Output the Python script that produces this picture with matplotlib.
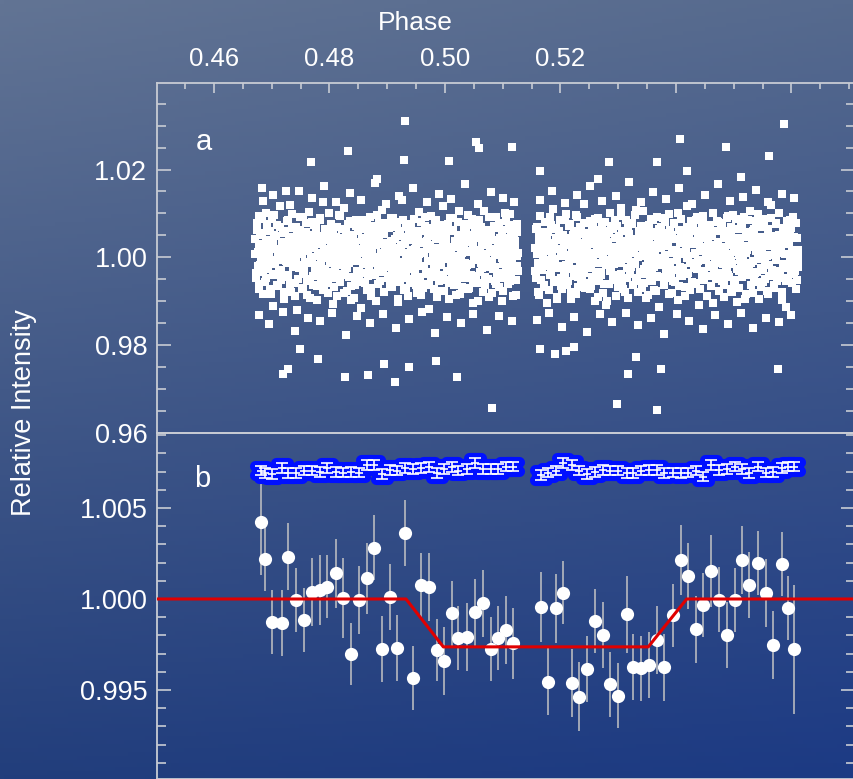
import numpy as np
import matplotlib
matplotlib.use('Agg')
import matplotlib.pyplot as plt
from matplotlib.ticker import MultipleLocator, FormatStrFormatter, FuncFormatter
import matplotlib.patheffects as pe

# ---------------- Panel a: unbinned photometry ----------------
# observed phase span of each evenly-sampled block
block_a_span = (0.4671, 0.5127)
block_b_span = (0.5156, 0.5612)
# flux deviations in units of 1e-4 (read/estimated from the picture)
dev_a = [
    42, -35, 78, 12, -61, 95, -18, 3, 55, -84, 27, -9, 101, -47, 66, -22, 14, -73, 38, 88, -5, -110, 51, 20, -39, 73, -66, 9, 117, -28,
    -52, 34, 5, -95, 61, 23, -14, 84, -41, 10, 46, -78, 99, -3, 30, -58, 70, 17, -120, 44, -25, 63, 8, -69, 92, -37, 26, -11, 57, -86,
    15, 104, -49, 36, -2, 80, -63, 21, -31, 67, -97, 48, 2, -17, 89, -54, 31, 125, -72, 6, -44, 58, 13, -81, 40, -6, 76, -33, 22, -107,
    69, -20, 47, -88, 11, 96, -57, 29, -1, 64, -40, 112, -26, 35, -76, 19, 52, -12, 83, -65, 4, 43, -93, 28, -48, 71, -8, 60, -30, 18,
    -115, 39, 86, -15, 25, -59, 7, 74, -43, 50, -7, 93, -70, 16, -36, 62, 1, -99, 45, 30, -21, 79, -53, 10, 108, -29, 56, -80, 33, -4,
    24, -46, 66, -13, 90, -67, 37, 0, -39, 81, -23, 49, -102, 14, 59, -56, 27, 130, -10, -74, 41, -32, 68, 9, -89, 54, -16, 77, -50, 3,
    87, -27, 18, -62, 46, -1, 103, -45, 32, -85, 60, 12, -19, 72, -60, 38, -9, 57, -118, 21, 94, -34, 6, -71, 49, -24, 85, 15, -42, 65,
    -3, 53, -77, 29, 118, -51, 8, 42, -30, 75, -94, 19, -14, 61, -38, 90, -64, 2, 34, -55, 80, -6, 24, -83, 47, 11, -28, 70, -47, 36,
    58, -18, 97, -69, 13, -40, 74, 26, -105, 43, -2, 66, -58, 17, 84, -33, 50, -12, 31, -79, 106, -44, 7, 62, -21, 39, -91, 20, 52, -8,
    -26, 71, -53, 5, 92, -36, 28, -68, 45, 14, -100, 63, -15, 37, -48, 82, 0, -61, 25, 99, -35, 56, -7, -87, 44, 18, -52, 76, -20, 9,
]
dev_a2 = [
    7, -48, 63, -19, 30, -72, 51, -4, 88, -33, 16, -57, 40, -11, 75, -26, 2, 59, -83, 22, -40, 34, 97, -15, 48, -64, 11, -29, 70, -6,
    -37, 19, 55, -78, 28, -9, 82, -45, 13, 39, -60, 4, 67, -23, 46, -87, 24, -2, 61, -50, 33, 91, -18, 8, -71, 44, -31, 15, 79, -54,
    26, -14, 50, -93, 37, 0, -42, 73, -20, 58, -66, 9, 31, -35, 84, -8, 47, -75, 18, -27, 65, -1, 41, -58, 100, -12, 23, -46, 6, 54,
    -68, 35, -3, 69, -39, 21, 94, -52, 12, -17, 45, -81, 28, 60, -24, 3, 77, -44, 17, -98, 52, -7, 36, -62, 25, 86, -30, 10, -49, 64,
    20, -56, 43, -10, 81, -36, 14, -74, 57, -22, 32, 5, -89, 49, -13, 71, -41, 27, -5, 96, -61, 38, -16, 62, -33, 1, 53, -79, 29, -21,
    78, -43, 9, -65, 36, 18, -28, 90, -51, 42, -7, 68, -95, 21, -37, 56, 13, -19, 85, -47, 30, -70, 4, 47, -25, 72, -58, 16, -3, 39,
    -11, 60, -34, 25, -82, 44, 7, -53, 80, -20, 34, -69, 11, 92, -38, 19, -8, 54, -63, 29, -45, 66, 3, -26, 83, -14, 41, -91, 22, -55,
    46, -18, 74, -40, 10, -77, 33, 57, -4, 24, -59, 89, -31, 15, -48, 63, -1, 38, -86, 27, -22, 50, 106, -36, 6, -67, 43, 20, -12, 76,
    -29, 52, -72, 14, 39, -15, 87, -56, 26, -6, 61, -42, 5, -99, 48, 17, -33, 70, -24, 35, 1, -64, 58, -9, 28, -50, 93, -17, 44, -81,
    13, 67, -23, 40, -60, 8, -35, 79, -47, 31, -2, 55, -76, 20, 102, -28, 45, -12, 64, -53, 24, -39, 11, 73, -19, 37, -85, 2, 58, -30,
]
dev_b = [
    -31, 64, 8, -79, 47, -16, 95, -52, 22, 3, -68, 81, -9, 36, -104, 58, 15, -41, 73, -25, 110, -57, 29, -4, 67, -90, 40, -19, 86, -48,
    12, -73, 51, 27, -36, 99, -62, 6, 44, -12, 77, -95, 33, -27, 61, -3, 18, -84, 92, -44, 25, 70, -58, 1, -21, 53, 122, -70, 39, -8,
    56, -24, 83, -66, 10, -45, 68, 31, -99, 48, -14, 20, 90, -53, 7, -34, 74, -82, 42, 16, -109, 59, -5, 35, -60, 101, -28, 13, 65, -40,
    -15, 45, -87, 72, 4, -50, 26, 113, -37, 60, -71, 19, -1, 85, -46, 38, -92, 54, 9, -23, 79, -64, 30, -11, 96, -55, 23, -78, 49, 2,
    71, -38, 14, 105, -59, 34, -20, 62, -86, 43, 11, -49, 88, -30, 57, -75, 21, -6, 93, -42, 46, -114, 28, 68, -17, 37, -63, 5, 80, -33,
    -47, 25, 98, -10, 52, -81, 17, -29, 75, -56, 41, 0, -97, 63, 32, -22, 87, -43, 12, 55, -68, 19, -2, 116, -35, 48, -74, 31, -13, 69,
    38, -61, 9, 84, -26, 50, -108, 22, -7, 66, -39, 94, -52, 15, 43, -88, 29, 73, -18, 4, -65, 57, 102, -32, 20, -47, 82, -9, 35, -76,
    -2, 78, -54, 24, -91, 61, 13, -25, 89, -40, 32, 7, -72, 50, -15, 97, -60, 18, 40, -101, 65, -30, 27, -5, 74, -45, 11, 91, -36, 58,
    -83, 16, 47, -19, 106, -64, 34, -8, 59, -50, 23, 82, -33, 1, -96, 70, -24, 44, 12, -57, 88, -11, 39, -77, 26, 64, -42, 6, 119, -28,
    49, -69, 21, 76, -4, -55, 35, 100, -37, 14, -80, 60, -21, 42, 8, -112, 53, -46, 30, 85, -16, 67, -59, 3, 46, -30, 79, -51, 17, -3,
]
dev_b2 = [
    22, -46, 70, -13, 38, -85, 15, 57, -29, 4, -62, 81, -20, 47, -5, 33, -74, 91, -38, 10, 64, -52, 26, -9, 44, -96, 18, 59, -24, 2,
    -66, 41, 12, -31, 85, -17, 29, -55, 72, -3, 36, -80, 21, 52, -42, 7, 97, -26, 45, -68, 16, -11, 60, -47, 32, 78, -35, 9, -58, 25,
    50, -8, -73, 34, -21, 66, 3, -49, 88, -33, 19, -90, 43, -14, 62, -40, 27, 5, -61, 80, -18, 39, -100, 14, 55, -30, 71, -6, 24, -51,
    -2, 84, -44, 17, -67, 48, 30, -12, 95, -57, 8, 37, -79, 26, -25, 68, -4, 53, -39, 11, 76, -63, 20, -15, 42, 107, -48, 1, 61, -34,
    35, -70, 19, 58, -27, 6, -92, 45, -10, 74, -41, 28, 3, -54, 86, -23, 13, -76, 49, -1, 31, 65, -45, 22, -16, 90, -60, 40, -7, 55,
    -19, 28, -84, 63, -36, 10, 47, -53, 79, -28, 17, -6, 102, -65, 34, -43, 56, 8, -24, 42, -88, 23, 69, -37, 4, 51, -14, 83, -56, 30,
    61, -25, 7, -59, 92, -9, 39, -72, 24, 14, -47, 76, -32, 53, -1, -87, 36, 19, -42, 67, -21, 48, -105, 29, -12, 60, -38, 11, 81, -50,
    -36, 16, 74, -16, 43, -64, 2, 59, -30, 95, -45, 27, -8, 68, -78, 32, 12, -52, 87, -26, 45, 5, -69, 38, -20, 73, -3, 25, -95, 50,
    9, -41, 84, -22, 57, -13, 30, -81, 41, 64, -35, 15, -57, 99, -4, 26, -67, 46, 18, -29, 71, -49, 34, 3, -84, 54, -18, 37, 89, -43,
    27, -62, 40, -7, 79, -31, 11, 52, -46, 21, -98, 66, -15, 32, 7, -54, 82, -25, 48, -11, 63, -39, 16, 93, -33, 4, -71, 44, -23, 13,
]
# points on the ragged upper/lower fringe of the cloud (phase, deviation in 1e-4)
fringe_phase = [0.4685, 0.4702, 0.4731, 0.4748, 0.4769, 0.4790, 0.4812, 0.4836, 0.4855, 0.4878, 0.4897,
                0.4921, 0.4944, 0.4968, 0.4989, 0.5010, 0.5034, 0.5058, 0.5079, 0.5101, 0.5120,
                0.4678, 0.4696, 0.4719, 0.4740, 0.4762, 0.4783, 0.4805, 0.4829, 0.4848, 0.4870, 0.4893,
                0.4915, 0.4937, 0.4960, 0.4982, 0.5004, 0.5027, 0.5049, 0.5072, 0.5093, 0.5116,
                0.5164, 0.5185, 0.5207, 0.5229, 0.5251, 0.5272, 0.5296, 0.5318, 0.5339, 0.5361, 0.5383,
                0.5405, 0.5428, 0.5450, 0.5472, 0.5494, 0.5516, 0.5538, 0.5560, 0.5583, 0.5605,
                0.5160, 0.5180, 0.5203, 0.5224, 0.5246, 0.5268, 0.5290, 0.5313, 0.5335, 0.5357, 0.5379,
                0.5401, 0.5423, 0.5446, 0.5467, 0.5490, 0.5512, 0.5534, 0.5556, 0.5578, 0.5600]
fringe_dev = [128, 141, 119, 152, 134, 163, 125, 147, 131, 170, 122,
              139, 158, 127, 144, 133, 166, 121, 149, 136, 126,
              -131, -152, -124, -168, -138, -145, -127, -176, -134, -149, -129,
              -161, -140, -125, -172, -136, -150, -128, -165, -133, -146,
              131, 150, 124, 143, 162, 128, 139, 171, 126, 148, 133,
              157, 122, 141, 166, 129, 137, 153, 125, 145, 134,
              -142, -127, -158, -135, -169, -130, -147, -126, -155, -138, -174,
              -129, -144, -163, -132, -151, -127, -160, -139, -148, -131]
# isolated outlying points
out_phase = [0.49307, 0.50537, 0.50589, 0.51160, 0.48320, 0.49290, 0.47680, 0.50069, 0.46831, 0.48822,
             0.47247, 0.50814, 0.49134, 0.50208, 0.47195, 0.47281, 0.48268, 0.48667, 0.49377, 0.49844,
             0.47801, 0.47489, 0.48944,
             0.51645, 0.54069, 0.53671, 0.54866, 0.55870, 0.55610, 0.54190, 0.52840, 0.52649, 0.55126,
             0.52978, 0.53671, 0.55766, 0.52095, 0.53169, 0.53307, 0.52234, 0.51905, 0.53740, 0.51645]
out_flux = [1.03115, 1.02635, 1.02498, 1.02521, 1.02430, 1.02224, 1.02178, 1.02201, 1.01573, 1.01790,
            1.01515, 0.96564, 0.97158, 0.97272, 0.97333, 0.97447, 0.97272, 0.97310, 0.97493, 0.97630,
            0.97675, 0.97904, 0.97561,
            1.01973, 1.02704, 1.02178, 1.02521, 1.03047, 1.02315, 1.01973, 1.02178, 1.01790, 1.01835,
            0.96670, 0.96533, 0.97447, 0.97858, 0.97333, 0.97722, 0.97950, 0.97790, 0.97447, 0.97904]

# ---------------- Panel b: binned photometry ----------------
bin_phase = [0.46809, 0.46883, 0.47010, 0.47172, 0.47287, 0.47420, 0.47564, 0.47692, 0.47835, 0.47962,
             0.48107, 0.48229, 0.48372, 0.48511, 0.48644, 0.48771, 0.48904, 0.49048, 0.49164, 0.49307,
             0.49441, 0.49579, 0.49723, 0.49856, 0.49983, 0.50116, 0.50230, 0.50376, 0.50519, 0.50653,
             0.50791, 0.50923, 0.51051, 0.51172,
             0.51662, 0.51789, 0.51922, 0.52049, 0.52194, 0.52320, 0.52454, 0.52597, 0.52731, 0.52857,
             0.53001, 0.53146, 0.53250, 0.53394, 0.53532, 0.53666, 0.53797, 0.53943, 0.54081, 0.54213,
             0.54341, 0.54473, 0.54606, 0.54750, 0.54888, 0.55022, 0.55138, 0.55270, 0.55415, 0.55558,
             0.55685, 0.55830, 0.55944, 0.56043]
bin_flux = [1.00421, 1.00220, 0.99872, 0.99866, 1.00232, 0.99995, 0.99885, 1.00040, 1.00049, 1.00068,
            1.00141, 1.00004, 0.99698, 0.99995, 1.00114, 1.00282, 0.99725, 1.00013, 0.99729, 1.00361,
            0.99564, 1.00077, 1.00068, 0.99720, 0.99661, 0.99921, 0.99784, 0.99793, 0.99927, 0.99976,
            0.99724, 0.99784, 0.99830, 0.99757,
            0.99958, 0.99546, 0.99949, 1.00035, 0.99537, 0.99463, 0.99615, 0.99881, 0.99802, 0.99531,
            0.99469, 0.99916, 0.99628, 0.99619, 0.99637, 0.99775, 0.99625, 0.99910, 1.00214, 1.00128,
            0.99835, 0.99967, 1.00154, 0.99995, 0.99802, 0.99995, 1.00214, 1.00077, 1.00199, 1.00031,
            0.99747, 1.00191, 0.99949, 0.99724]
bin_err = [0.00290, 0.00174, 0.00176, 0.00181, 0.00184, 0.00178, 0.00176, 0.00187, 0.00192, 0.00172,
           0.00190, 0.00220, 0.00172, 0.00185, 0.00196, 0.00177, 0.00183, 0.00181, 0.00181, 0.00182,
           0.00176, 0.00176, 0.00187, 0.00170, 0.00187, 0.00179, 0.00176, 0.00187, 0.00184, 0.00183,
           0.00176, 0.00176, 0.00187, 0.00194,
           0.00192, 0.00185, 0.00191, 0.00175, 0.00188, 0.00191, 0.00179, 0.00176, 0.00181, 0.00180,
           0.00180, 0.00210, 0.00181, 0.00180, 0.00179, 0.00187, 0.00185, 0.00173, 0.00190, 0.00182,
           0.00184, 0.00176, 0.00199, 0.00179, 0.00183, 0.00177, 0.00185, 0.00181, 0.00176, 0.00187,
           0.00187, 0.00177, 0.00177, 0.00354]
# comparison (offset) light curve shown in blue
comp_flux = [1.00705, 1.00692, 1.00687, 1.00720, 1.00692, 1.00692, 1.00705, 1.00705, 1.00699, 1.00720,
             1.00699, 1.00694, 1.00699, 1.00694, 1.00736, 1.00736, 1.00687, 1.00709, 1.00705,
             1.00720, 1.00714, 1.00720, 1.00725, 1.00692, 1.00714, 1.00725, 1.00705, 1.00714, 1.00747,
             1.00714, 1.00714, 1.00714, 1.00727, 1.00727,
             1.00681, 1.00694, 1.00705, 1.00747, 1.00736, 1.00705, 1.00687, 1.00699, 1.00709, 1.00705,
             1.00705, 1.00692, 1.00692, 1.00705, 1.00709, 1.00709, 1.00692, 1.00694,
             1.00692, 1.00694, 1.00705, 1.00672, 1.00736, 1.00709, 1.00714, 1.00727, 1.00714, 1.00692,
             1.00727, 1.00694, 1.00699, 1.00720, 1.00727, 1.00727]
comp_err = 0.00026
# transit model
model_phase = [0.450, 0.49325, 0.49971, 0.53520, 0.54185, 0.571]
model_flux = [1.0, 1.0, 0.99737, 0.99737, 1.0, 1.0]
# labelled phase ticks
phase_labels = [0.46, 0.48, 0.50, 0.52]

# ---------------- figure ----------------
W, H = 854, 779
fig = plt.figure(figsize=(W / 100, H / 100), dpi=100)

# background gradient
bg = fig.add_axes([0, 0, 1, 1], zorder=-10)
bg.axis('off')
tl = np.array([98, 116, 148]) / 255
tr = np.array([86, 106, 142]) / 255
bl = np.array([34, 62, 124]) / 255
br = np.array([28, 58, 132]) / 255
yy, xx = np.mgrid[0:1:200j, 0:1:200j]
img = ((1 - yy)[..., None] * ((1 - xx)[..., None] * tl + xx[..., None] * tr)
       + yy[..., None] * ((1 - xx)[..., None] * bl + xx[..., None] * br))
bg.imshow(img, extent=[0, 1, 0, 1], aspect='auto', origin='upper')
bg.set_xlim(0, 1)
bg.set_ylim(0, 1)

left = 157 / W
width = 698 / W
ax1 = fig.add_axes([left, 1 - 433 / H, width, 350 / H])
ax2 = fig.add_axes([left, 0, width, 346 / H])

spine_col = '#c8ccd4'
for ax in (ax1, ax2):
    ax.set_facecolor('none')
    for s in ax.spines.values():
        s.set_color(spine_col)
        s.set_linewidth(1.3)
    ax.set_xlim(0.45013, 0.57100)
    ax.xaxis.set_major_locator(MultipleLocator(0.02))
    ax.xaxis.set_minor_locator(MultipleLocator(0.005))
    ax.tick_params(which='both', colors=spine_col, labelcolor='white', direction='in', width=1.2)

# panel a
pt = dict(marker='s', color='white', ms=5.4, mew=0, linestyle='none')
for dev, span in ((dev_a, block_a_span), (dev_a2, block_a_span), (dev_b, block_b_span), (dev_b2, block_b_span)):
    ph = np.linspace(span[0], span[1], len(dev))
    ax1.plot(ph, 1 + np.array(dev) * 1e-4, **pt)
ax1.plot(fringe_phase, 1 + np.array(fringe_dev) * 1e-4, **pt)
ax1.plot(out_phase, out_flux, **pt)
ax1.set_ylim(0.96, 1.0397)
ax1.yaxis.set_major_locator(MultipleLocator(0.02))
ax1.yaxis.set_minor_locator(MultipleLocator(0.005))
ax1.yaxis.set_major_formatter(FormatStrFormatter('%.2f'))
ax1.xaxis.set_major_formatter(FuncFormatter(
    lambda v, pos: f'{v:.2f}' if any(abs(v - p) < 1e-6 for p in phase_labels) else ''))
ax1.tick_params(axis='x', which='both', top=True, bottom=False, labeltop=True, labelbottom=False, pad=9)
ax1.tick_params(axis='x', which='major', length=7)
ax1.tick_params(axis='x', which='minor', length=4.5)
ax1.tick_params(axis='y', which='both', left=True, right=True, pad=7)
ax1.tick_params(axis='y', which='major', length=10)
ax1.tick_params(axis='y', which='minor', length=6.5)

# panel b
ax2.plot(model_phase, model_flux, '-', color='#e00000', lw=2.2, zorder=4)
ax2.errorbar(bin_phase, bin_flux, yerr=bin_err, fmt='o', color='white', ms=9.5, mew=0,
             ecolor='#c4c4c4', elinewidth=1.1, capsize=5.5, capthick=1.1, zorder=3)
halo = ax2.errorbar(bin_phase, comp_flux, yerr=comp_err, fmt='_', color='#0010ff', ms=5.5,
                    ecolor='#0010ff', elinewidth=1, capsize=4.2, capthick=1, mew=1, zorder=5)
for art in [halo.lines[0]] + list(halo.lines[1]) + list(halo.lines[2]):
    art.set_path_effects([pe.Stroke(linewidth=8, foreground='#0010ff', capstyle='round', joinstyle='round')])
ax2.errorbar(bin_phase, comp_flux, yerr=comp_err, fmt='_', color='white', ms=5.5,
             ecolor='white', elinewidth=1.2, capsize=4.2, capthick=1.2, mew=1.2, zorder=6)
ax2.set_ylim(0.99011, 1.00912)
ax2.yaxis.set_major_locator(MultipleLocator(0.005))
ax2.yaxis.set_minor_locator(MultipleLocator(0.001))
ax2.yaxis.set_major_formatter(FormatStrFormatter('%.3f'))
ax2.tick_params(axis='x', which='both', top=False, bottom=False, labeltop=False, labelbottom=False)
ax2.tick_params(axis='y', which='both', left=True, right=True, pad=7)
ax2.tick_params(axis='y', which='major', length=10)
ax2.tick_params(axis='y', which='minor', length=6.5)

for ax in (ax1, ax2):
    for lab in ax.get_yticklabels():
        lab.set_family(['Liberation Sans', 'DejaVu Sans'])
        lab.set_size(19.5)
for lab in ax1.get_xticklabels():
    lab.set_family(['Liberation Sans', 'DejaVu Sans'])
    lab.set_size(18.5)

fig.text(415 / W, 1 - 23 / H, 'Phase', color='white', ha='center', va='center',
         family=['Liberation Sans', 'DejaVu Sans'], size=19)
fig.text(24 / W, 1 - 413 / H, 'Relative Intensity', color='white', ha='center', va='center',
         rotation=90, family=['Liberation Sans', 'DejaVu Sans'], size=19.5)
fig.text(204 / W, 1 - 142 / H, 'a', color='white', ha='center', va='center',
         family=['Liberation Sans', 'DejaVu Sans'], size=21)
fig.text(202 / W, 1 - 479 / H, 'b', color='white', ha='center', va='center',
         family=['Liberation Sans', 'DejaVu Sans'], size=21)

fig.savefig('out.png', dpi=100)
